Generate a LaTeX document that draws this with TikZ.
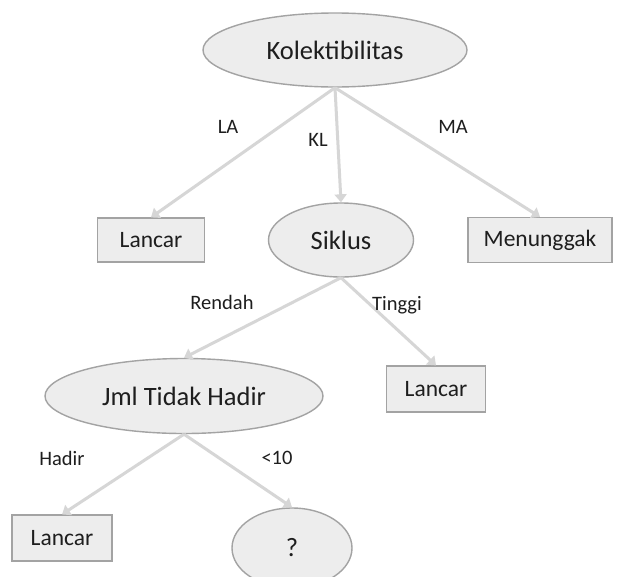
\documentclass[tikz,border=0pt]{standalone}
\usepackage{fontspec}
\setmainfont{Carlito}
\usetikzlibrary{shapes.geometric,arrows.meta}
\definecolor{inkc}{HTML}{1E1E1E}
\definecolor{nodefill}{HTML}{EDEDED}
\definecolor{nodeedge}{HTML}{A3A3A3}
\definecolor{linkc}{HTML}{D6D6D6}
\tikzset{
  decision/.style={ellipse, draw=nodeedge, line width=1.4pt, fill=nodefill,
    inner sep=0pt, text=inkc, font=\fontsize{26.5}{30}\selectfont},
  leaf/.style={rectangle, draw=nodeedge, line width=1.2pt, fill=nodefill,
    inner sep=0pt, text=inkc, font=\fontsize{23.5}{27}\selectfont},
  branch/.style={text=inkc, inner sep=0pt, font=\fontsize{20.5}{24}\selectfont},
  link/.style={draw=linkc, line width=3pt,
    -{Triangle[width=12pt,length=8pt]}}
}
\begin{document}
\begin{tikzpicture}[x=1pt,y=-1pt]
\useasboundingbox (0,0) rectangle (620,576);
\fill[white] (0,0) rectangle (620,576);
\path[clip] (0,0) rectangle (620,576);

% nodes
\node[decision, minimum width=264pt, minimum height=74pt] (kol) at (335,50) {Kolektibilitas};
\node[leaf, minimum width=107pt, minimum height=44pt] (lan1) at (151,240) {Lancar};
\node[decision, minimum width=145pt, minimum height=74pt] (sik) at (341,240) {Siklus};
\node[leaf, minimum width=144pt, minimum height=45pt] (men) at (540,240) {Menunggak};
\node[decision, minimum width=278pt, minimum height=75pt] (jml) at (184,396) {Jml Tidak Hadir};
\node[leaf, minimum width=99pt, minimum height=46pt] (lan2) at (436,389) {Lancar};
\node[leaf, minimum width=100pt, minimum height=46pt] (lan3) at (62,538) {Lancar};
\node[decision, minimum width=120pt, minimum height=80pt] (q) at (292,548) {?};

% connectors
\draw[link] (kol.south) -- (lan1.north);
\draw[link] (kol.south) -- (sik.north);
\draw[link] (kol.south) -- (men.north);
\draw[link] (sik.south) -- (jml.north);
\draw[link] (sik.south) -- (lan2.north);
\draw[link] (jml.south) -- (lan3.north);
\draw[link] (jml.south) -- (q.north);

% branch labels
\node[branch] (la) at (228,127) {LA};
\node[branch] (kl) at (318,140) {KL};
\node[branch] (ma) at (453,127) {MA};
\node[branch] (ren) at (222,302) {Rendah};
\node[branch] (tin) at (397,305) {Tinggi};
\node[branch] (had) at (62,458) {Hadir};
\node[branch] (lt) at (277,458) {<10};
\end{tikzpicture}
\end{document}
